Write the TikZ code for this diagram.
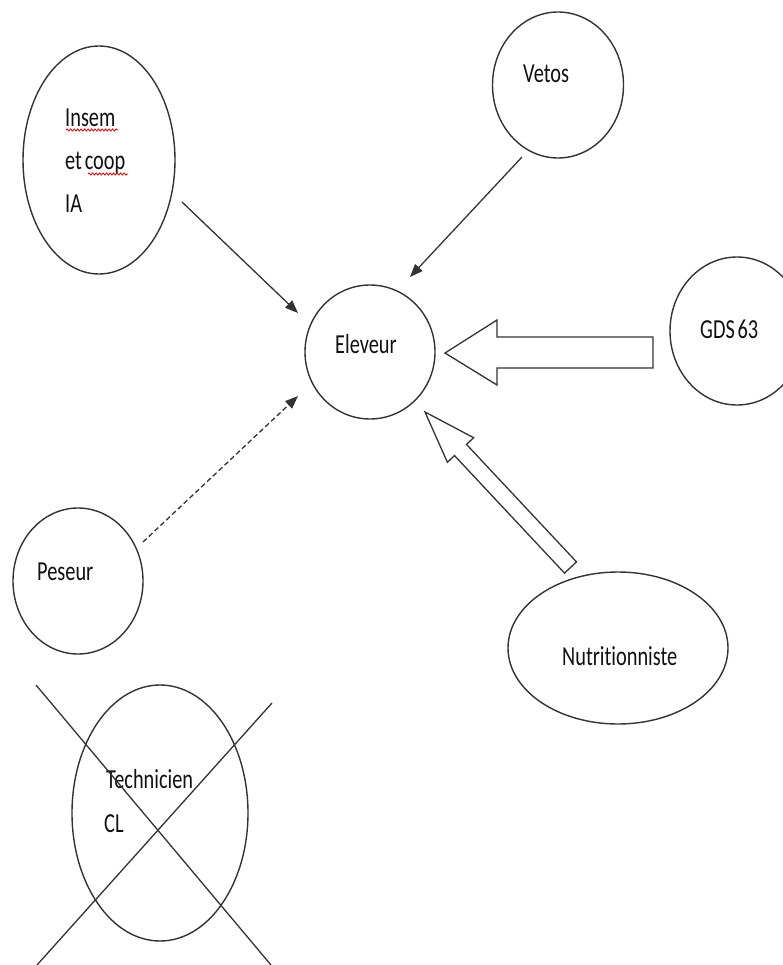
\documentclass[tikz,border=0pt]{standalone}
\usepackage{fontspec}
\setmainfont{Carlito}[FakeStretch=0.74, Ligatures={NoCommon}, WordSpace=0.6]
\usetikzlibrary{shapes.geometric,arrows.meta,decorations.pathmorphing}
\definecolor{outl}{HTML}{333333}
\definecolor{txt}{HTML}{101010}
\tikzset{
  bub/.style={draw=outl, line width=1.4pt, ellipse, inner sep=0pt},
  lbl/.style={anchor=base west, inner sep=0pt, text=txt, font=\fontsize{27.5}{30}\selectfont},
  conn/.style={draw=outl, line width=1.3pt, -{Triangle[length=13pt,width=10pt]}},
  blockarrow/.style={draw=outl, line width=1.3pt, fill=white, line join=miter},
  crossline/.style={draw=outl, line width=1.3pt},
  spell/.style={draw=red!85!black, line width=0.8pt, decorate, decoration={snake, amplitude=1.1pt, segment length=3.5pt}}
}
\begin{document}
\begin{tikzpicture}[x=1pt,y=-1pt]
\path[use as bounding box] (0,0) rectangle (783,965);
% bubbles
\node[bub, minimum width=152pt, minimum height=228pt] (insem) at (99,160) {};
\node[bub, minimum width=131pt, minimum height=146pt] (vetos) at (558,85) {};
\node[bub, minimum width=130pt, minimum height=134pt] (elev) at (370,352) {};
\node[bub, minimum width=134pt, minimum height=148pt] (gds) at (737,331) {};
\node[bub, minimum width=130pt, minimum height=146pt] (peseur) at (78,581) {};
\node[bub, minimum width=220pt, minimum height=152pt] (nutri) at (618,648) {};
\node[bub, minimum width=176pt, minimum height=256pt] (tech) at (160,813) {};
% labels
\node[lbl] (tInsem) at (65,127) {Insem};
\node[lbl] (tEtcoop) at (65,170) {et coop};
\node[lbl] (tIA) at (65,213) {IA};
\node[lbl] (tVetos) at (523,83) {Vetos};
\node[lbl] (tElev) at (335,353) {Eleveur};
\node[lbl] (tGds) at (700,338) {GDS 63};
\node[lbl] (tPes) at (37,580) {Peseur};
\node[lbl] (tNutri) at (562,665) {Nutritionniste};
\node[lbl] (tTech) at (106,788) {Technicien};
\node[lbl] (tCL) at (104,832) {CL};
% spell-check underlines
\coordinate (s1a) at (66,130); \coordinate (s1b) at (118,130);
\coordinate (s2a) at (88,174); \coordinate (s2b) at (128,174);
\path[spell] (s1a) -- (s1b);
\path[spell] (s2a) -- (s2b);
% connector endpoints
\coordinate (i1) at (182,202); \coordinate (e1) at (298,313);
\coordinate (v1) at (522,157); \coordinate (e2) at (410,277);
\coordinate (p1) at (143,542); \coordinate (e3) at (298,396);
\path[conn] (i1) -- (e1);
\path[conn] (v1) -- (e2);
\path[conn, dash pattern=on 5pt off 3pt] (p1) -- (e3);
% block arrows
\path[blockarrow] (445,353) -- (497,320) -- (497,337) -- (653,337) -- (653,368) -- (497,368) -- (497,385) -- cycle;
\path[blockarrow] (425,412) -- (473.6,437.7) -- (466.5,444.4) -- (576.5,561.9) -- (564.5,573.1) -- (454.5,455.6) -- (447.4,462.3) -- cycle;
% cross over Technicien CL
\coordinate (c1a) at (36,685); \coordinate (c1b) at (271,965);
\coordinate (c2a) at (272,703); \coordinate (c2b) at (37,965);
\path[crossline] (c1a) -- (c1b);
\path[crossline] (c2a) -- (c2b);
\end{tikzpicture}
\end{document}
